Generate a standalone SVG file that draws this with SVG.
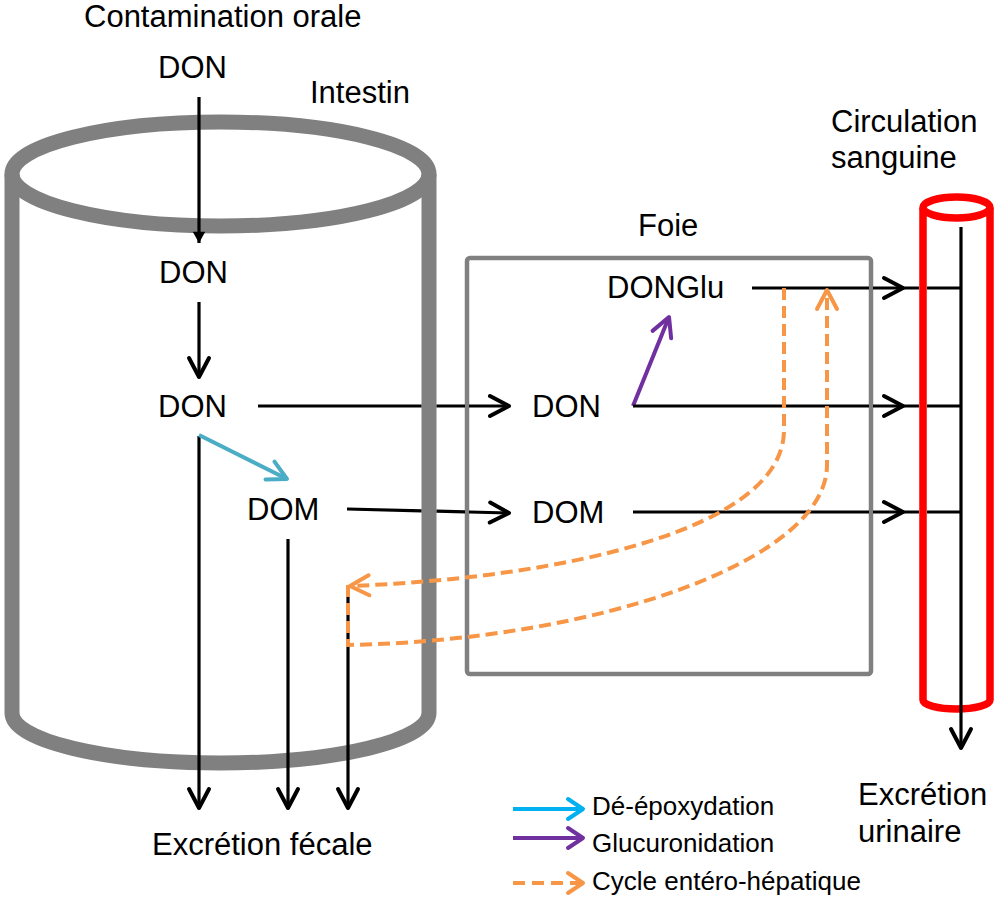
<svg xmlns="http://www.w3.org/2000/svg" width="996" height="899" viewBox="0 0 996 899">
<defs>
<style>
text{font-family:"Liberation Sans",Arial,sans-serif;fill:#000}
.lbl{font-size:31px}
.leg{font-size:26px}
.wall{fill:none;stroke:#808080;stroke-width:15;stroke-linejoin:round}
.box{fill:none;stroke:#808080;stroke-width:4.5}
.tube{fill:none;stroke:#FF0000;stroke-width:7.5;stroke-linejoin:round}
.k{fill:none;stroke:#000;stroke-width:3.2}
.ka{fill:none;stroke:#000;stroke-width:3.2;marker-end:url(#ah-k)}
.cy{fill:none;stroke:#4BACC6;stroke-width:4;marker-end:url(#ah-cy)}
.pu{fill:none;stroke:#7030A0;stroke-width:4;marker-end:url(#ah-pu)}
.or{fill:none;stroke:#F79646;stroke-width:4;stroke-dasharray:12 6;marker-end:url(#ah-or)}
.lc{fill:none;stroke:#00B0F0;stroke-width:4;marker-end:url(#ah-lc)}
.lp{fill:none;stroke:#7030A0;stroke-width:4;marker-end:url(#ah-lp)}
.lo{fill:none;stroke:#F79646;stroke-width:4;stroke-dasharray:12 7;marker-end:url(#ah-lo)}
</style>
<marker id="ah-k" markerUnits="userSpaceOnUse" markerWidth="30" markerHeight="30" viewBox="-25 -15 30 30" refX="0" refY="0" orient="auto" overflow="visible"><path d="M-19,-10 L0,0 L-19,10" fill="none" stroke="#000" stroke-width="4" stroke-linecap="round" stroke-linejoin="round"/></marker>
<marker id="ah-tri" markerUnits="userSpaceOnUse" markerWidth="20" markerHeight="20" viewBox="-12 -8 16 16" refX="0" refY="0" orient="auto" overflow="visible"><path d="M-9,-5 L0,0 L-9,5 Z" fill="#000"/></marker>
<marker id="ah-cy" markerUnits="userSpaceOnUse" markerWidth="30" markerHeight="30" viewBox="-25 -15 30 30" refX="0" refY="0" orient="auto" overflow="visible"><path d="M-19,-10 L0,0 L-19,10" fill="none" stroke="#4BACC6" stroke-width="4" stroke-linecap="round" stroke-linejoin="round"/></marker>
<marker id="ah-pu" markerUnits="userSpaceOnUse" markerWidth="30" markerHeight="30" viewBox="-25 -15 30 30" refX="0" refY="0" orient="auto" overflow="visible"><path d="M-19,-10 L0,0 L-19,10" fill="none" stroke="#7030A0" stroke-width="4" stroke-linecap="round" stroke-linejoin="round"/></marker>
<marker id="ah-or" markerUnits="userSpaceOnUse" markerWidth="30" markerHeight="30" viewBox="-25 -15 30 30" refX="0" refY="0" orient="auto" overflow="visible"><path d="M-19,-10 L0,0 L-19,10" fill="none" stroke="#F79646" stroke-width="4" stroke-linecap="round" stroke-linejoin="round"/></marker>
<marker id="ah-lc" markerUnits="userSpaceOnUse" markerWidth="30" markerHeight="30" viewBox="-25 -15 30 30" refX="0" refY="0" orient="auto" overflow="visible"><path d="M-15,-10 L0,0 L-15,10" fill="none" stroke="#00B0F0" stroke-width="4" stroke-linecap="round" stroke-linejoin="round"/></marker>
<marker id="ah-lp" markerUnits="userSpaceOnUse" markerWidth="30" markerHeight="30" viewBox="-25 -15 30 30" refX="0" refY="0" orient="auto" overflow="visible"><path d="M-15,-10 L0,0 L-15,10" fill="none" stroke="#7030A0" stroke-width="4" stroke-linecap="round" stroke-linejoin="round"/></marker>
<marker id="ah-lo" markerUnits="userSpaceOnUse" markerWidth="30" markerHeight="30" viewBox="-25 -15 30 30" refX="0" refY="0" orient="auto" overflow="visible"><path d="M-15,-10 L0,0 L-15,10" fill="none" stroke="#F79646" stroke-width="4" stroke-linecap="round" stroke-linejoin="round"/></marker>
</defs>
<rect width="996" height="899" fill="#fff"/>

<g id="intestin">
<path class="wall" d="M12 174 V713 A208.5 50 0 0 0 429 713 V174"/>
<ellipse class="wall" cx="220.5" cy="174" rx="208.5" ry="52"/>
<text class="lbl" x="310" y="103">Intestin</text>
</g>

<g id="foie">
<rect class="box" x="467" y="258" width="404" height="416" rx="3"/>
<text class="lbl" x="638" y="236">Foie</text>
</g>

<g id="circulation">
<path class="tube" d="M923 208 V700 A33.5 9 0 0 0 990 700 V208"/>
<ellipse class="tube" cx="956.5" cy="207.5" rx="33.5" ry="10.5"/>
<text class="lbl" x="831" y="132">Circulation</text>
<text class="lbl" x="831" y="168">sanguine</text>
</g>

<g id="contamination"><text class="lbl" x="84" y="27">Contamination orale</text></g>
<g id="don-oral"><text class="lbl" x="158" y="78">DON</text></g>
<g id="don-int1"><text class="lbl" x="159" y="283">DON</text></g>
<g id="don-int2"><text class="lbl" x="158" y="417">DON</text></g>
<g id="dom-int"><text class="lbl" x="247" y="520">DOM</text></g>
<g id="don-foie"><text class="lbl" x="532" y="417">DON</text></g>
<g id="dom-foie"><text class="lbl" x="532" y="523">DOM</text></g>
<g id="donglu"><text class="lbl" x="607" y="298">DONGlu</text></g>
<g id="excretion-fecale"><text class="lbl" x="152" y="855">Excrétion fécale</text></g>
<g id="excretion-urinaire"><text class="lbl" x="858" y="805">Excrétion</text><text class="lbl" x="858" y="842">urinaire</text></g>

<g id="connectors">
<path class="k" d="M199 97 V243" style="marker-end:url(#ah-tri)"/>
<path class="ka" d="M199 302 V377"/>
<path class="ka" d="M258 406 H421.5 M436.5 406 H465 M469 406 H509"/>
<path class="ka" d="M199 436 V808"/>
<path class="ka" d="M347 509 L421.5 510.8 M436.5 511.2 L465 511.9 M469 512 L509 513"/>
<path class="ka" d="M288 539 V808"/>
<path class="ka" d="M348 585 V808"/>
<path class="cy" d="M199 435 L287 479"/>
<path class="pu" d="M633 406 L669 317"/>
<path class="ka" d="M752 288 H869 M873 288 H903"/>
<path class="k" d="M903 288 H919 M927 288 H961"/>
<path class="ka" d="M633 406 H869 M873 406 H903"/>
<path class="k" d="M903 406 H919 M927 406 H961"/>
<path class="ka" d="M633 512 H869 M873 512 H903"/>
<path class="k" d="M903 512 H919 M927 512 H961"/>
<path class="ka" d="M961 227 V748"/>
<path class="or" d="M784 288 V430 C784 530 560 578 350 586"/>
<path class="or" d="M348 585 V645 C600 640 827 560 827 465 V290"/>
</g>

<g id="legend">
<path class="lc" d="M513 809 H583"/>
<text class="leg" x="592" y="815">Dé-époxydation</text>
<path class="lp" d="M513 838 H583"/>
<text class="leg" x="592" y="852">Glucuronidation</text>
<path class="lo" d="M513 883 H583"/>
<text class="leg" x="592" y="890">Cycle entéro-hépatique</text>
</g>
</svg>
